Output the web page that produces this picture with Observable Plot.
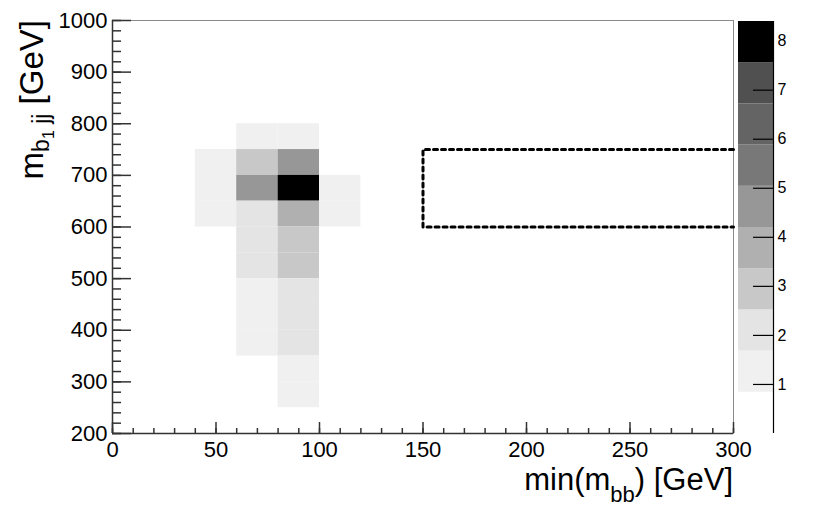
<!DOCTYPE html>
<html>
<head>
<meta charset="utf-8">
<script src="https://cdn.jsdelivr.net/npm/d3@7"></script>
<script src="https://cdn.jsdelivr.net/npm/@observablehq/plot@0.6"></script>
<style>
  html, body { margin: 0; padding: 0; background: #ffffff; }
  #chart { position: relative; width: 830px; height: 519px; background: #ffffff; overflow: hidden; }
  #chart svg { position: absolute; top: 0; }
</style>
</head>
<body>
<div id="chart"></div>
<script>
// ---- data ----
const xDomain = [0, 300];
const yDomain = [200, 1000];
const binWidthX = 20;
const binWidthY = 50;
// lower edges of filled bins and their counts
const cellX = [60, 80, 40, 60, 80, 40, 60, 80, 100, 40, 60, 80, 100, 60, 80, 60, 80, 60, 80, 60, 80, 60, 80, 80, 80];
const cellY = [750, 750, 700, 700, 700, 650, 650, 650, 650, 600, 600, 600, 600, 550, 550, 500, 500, 450, 450, 400, 400, 350, 350, 300, 250];
const cellCount = [1, 1, 1, 3, 5, 1, 5, 8, 1, 1, 2, 4, 1, 2, 3, 2, 3, 1, 2, 1, 2, 1, 2, 1, 1];
// signal box (dotted)
const boxX = [300, 150, 150, 300];
const boxY = [750, 750, 600, 600];
// ticks
const xMajorTicks = [0, 50, 100, 150, 200, 250, 300];
const xMinorTicks = d3.range(0, 301, 10);
const yMajorTicks = [200, 300, 400, 500, 600, 700, 800, 900, 1000];
const yMinorTicks = d3.range(200, 1001, 20);
// colour palette (z axis)
const zMax = 8.4;
const zTicks = [1, 2, 3, 4, 5, 6, 7, 8];
const contourLevels = [0.84, 1.68, 2.52, 3.36, 4.2, 5.04, 5.88, 6.72, 7.56];
const grayPalette = ["#ffffff", "#f0f0f0", "#e4e4e4", "#c8c8c8", "#b0b0b0", "#979797", "#787878", "#646464", "#505050", "#000000"];

// ---- tables built from the arrays ----
const cells = cellX.map((x, i) => ({x1: x, x2: x + binWidthX, y1: cellY[i], y2: cellY[i] + binWidthY, n: cellCount[i]}));
const box = boxX.map((x, i) => ({x, y: boxY[i]}));
const bandLow = [0, ...contourLevels];
const bandHigh = [...contourLevels, zMax];
const bands = grayPalette.map((c, i) => ({lo: bandLow[i], hi: bandHigh[i], z: (bandLow[i] + bandHigh[i]) / 2}));

const font = "'Liberation Sans', Arimo, Helvetica, Arial, sans-serif";
const axisColor = "#333333";
const colorScale = {type: "threshold", domain: contourLevels, range: grayPalette};

const W = 830, H = 519;
const mL = 112, mR = 97, mT = 20, mB = 86;
const frameW = W - mL - mR, frameH = H - mT - mB;

const main = Plot.plot({
  width: W, height: H,
  marginLeft: mL, marginRight: mR, marginTop: mT, marginBottom: mB,
  style: {fontFamily: font, fontSize: "22px", background: "#ffffff", color: "#000000"},
  x: {domain: xDomain, ticks: xMajorTicks, tickSize: 0, tickPadding: 8, tickFormat: d => String(d), label: null},
  y: {domain: yDomain, ticks: yMajorTicks, tickSize: 0, tickPadding: 5, tickFormat: d => String(d), label: null},
  color: colorScale,
  marks: [
    Plot.rect(cells, {x1: "x1", x2: "x2", y1: "y1", y2: "y2", fill: "n"}),
    Plot.frame({stroke: "#8a8a8a", strokeWidth: 1}),
    Plot.line(box, {x: "x", y: "y", stroke: "#000000", strokeWidth: 3, strokeDasharray: "4,4", clip: false}),
    Plot.tickY(yMajorTicks, {y: d => d, insetRight: frameW - 19, stroke: axisColor, strokeWidth: 1.5}),
    Plot.tickY(yMinorTicks, {y: d => d, insetRight: frameW - 9, stroke: axisColor, strokeWidth: 1.5}),
    Plot.tickX(xMajorTicks, {x: d => d, insetTop: frameH - 11, stroke: axisColor, strokeWidth: 1.5}),
    Plot.tickX(xMinorTicks, {x: d => d, insetTop: frameH - 5, stroke: axisColor, strokeWidth: 1.5}),
    Plot.ruleX([xDomain[0]], {stroke: axisColor, strokeWidth: 1.5}),
    Plot.ruleY([yDomain[0]], {stroke: axisColor, strokeWidth: 1.5})
  ]
});
main.style.left = "0px";

// axis titles with subscripts
const svg = d3.select(main);
const xt = svg.append("text")
  .attr("x", mL + frameW).attr("y", 490)
  .attr("text-anchor", "end")
  .attr("font-family", font).attr("font-size", 31).attr("fill", "#000");
xt.append("tspan").text("min(m");
xt.append("tspan").attr("font-size", 22).attr("dy", 12).text("bb");
xt.append("tspan").attr("dy", -12).text(") [GeV]");

const yt = svg.append("text")
  .attr("transform", `translate(43,${mT}) rotate(-90)`)
  .attr("text-anchor", "end")
  .attr("font-family", font).attr("font-size", 33).attr("fill", "#000");
yt.append("tspan").text("m");
yt.append("tspan").attr("font-size", 23).attr("dy", 6).text("b");
yt.append("tspan").attr("font-size", 16).attr("dy", 5).text("1");
yt.append("tspan").attr("font-size", 23).attr("dy", -5).text(" jj");
yt.append("tspan").attr("font-size", 33).attr("dy", -6).text(" [GeV]");

// palette (z axis)
const pLeft = 700;
const pal = Plot.plot({
  width: 130, height: H,
  marginLeft: 38, marginRight: 57, marginTop: 21, marginBottom: mB,
  style: {fontFamily: font, fontSize: "16px", background: "transparent", color: "#000000"},
  x: {domain: [0, 1], axis: null},
  y: {domain: [0, zMax], axis: "right", ticks: zTicks, tickSize: 0, tickPadding: 4, tickFormat: d => String(d), label: null},
  color: colorScale,
  marks: [
    Plot.rect(bands, {x1: 0, x2: 1, y1: "lo", y2: "hi", fill: "z"}),
    Plot.tickY(zTicks, {y: d => d, insetLeft: 15, stroke: "#000000", strokeWidth: 1.2}),
    Plot.ruleX([1], {stroke: "#000000", strokeWidth: 1.2})
  ]
});
pal.style.left = pLeft + "px";

const chart = document.getElementById("chart");
chart.appendChild(main);
chart.appendChild(pal);
</script>
</body>
</html>
